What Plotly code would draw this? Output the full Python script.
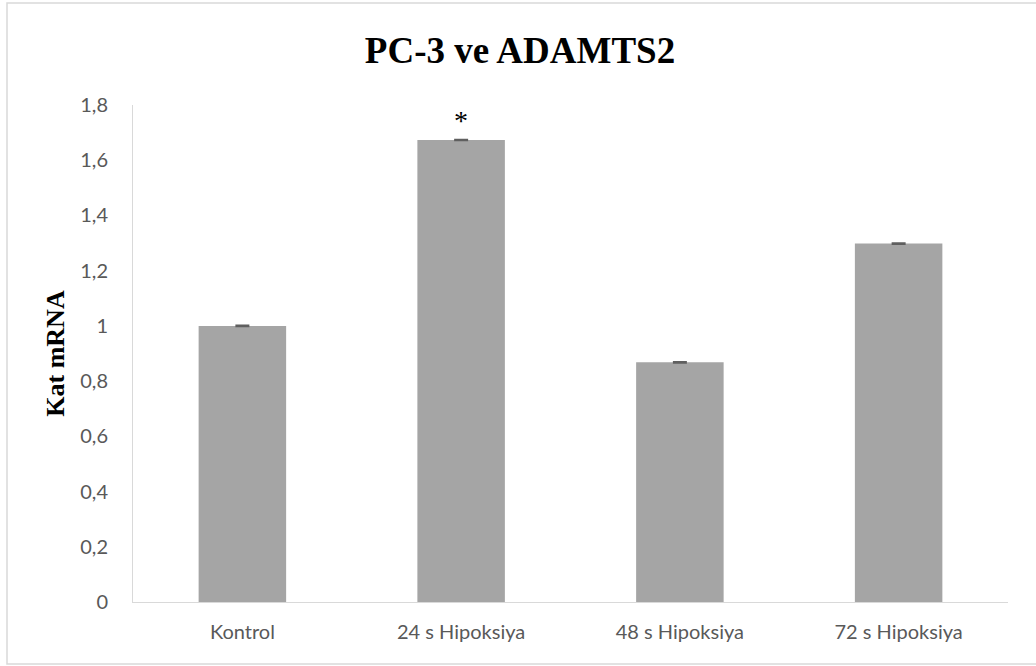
import plotly.graph_objects as go

categories = ["Kontrol", "24 s Hipoksiya", "48 s Hipoksiya", "72 s Hipoksiya"]
values = [1.0, 1.673, 0.868, 1.298]
errors = [0.002, 0.002, 0.002, 0.002]
significance = ["", "*", "", ""]
y_ticks = [0, 0.2, 0.4, 0.6, 0.8, 1.0, 1.2, 1.4, 1.6, 1.8]
y_tick_labels = ["0", "0,2", "0,4", "0,6", "0,8", "1", "1,2", "1,4", "1,6", "1,8"]

fig = go.Figure()
fig.add_trace(go.Bar(
    x=categories, y=values,
    marker=dict(color="#a5a5a5", line=dict(width=0)),
    width=0.4,
    error_y=dict(type="data", array=errors, visible=True, color="#5f5f5f", thickness=1.5, width=7),
))

for c, v, s in zip(categories, values, significance):
    if s:
        fig.add_annotation(x=c, y=v, text=s, showarrow=False, yshift=20,
                           font=dict(family="Liberation Serif", size=28, color="#000000"))

W, H = 1036, 666
l, r, t, b = 133, 28, 105, 64
pw, ph = W - l - r, H - t - b
fig.add_shape(type="rect", xref="paper", yref="paper",
              x0=(7 - l) / pw, x1=1 + (W + 5 - (W - r)) / pw,
              y0=-(664 - (H - b)) / ph, y1=1 + (t - 3) / ph,
              line=dict(color="#d9d9d9", width=1.5), fillcolor="rgba(0,0,0,0)", layer="above")

fig.update_layout(
    width=W, height=H,
    margin=dict(l=l, r=r, t=t, b=b, pad=0),
    paper_bgcolor="white", plot_bgcolor="white",
    title=dict(text="<b>PC-3 ve ADAMTS2</b>", x=520 / W, xanchor="center", y=1 - 50 / H, yanchor="middle",
               font=dict(family="Liberation Serif", size=37, color="#000000")),
    showlegend=False,
    bargap=0.6,
    xaxis=dict(showline=True, linecolor="#d9d9d9", linewidth=1, ticks="", showgrid=False,
               ticklabelstandoff=12,
               tickfont=dict(family="Lato", size=20, color="#595959")),
    yaxis=dict(range=[0, 1.8], tickvals=y_ticks, ticktext=y_tick_labels,
               showline=True, linecolor="#d9d9d9", linewidth=1, showgrid=False, zeroline=False,
               ticks="", ticklabelstandoff=20,
               tickfont=dict(family="Lato", size=20, color="#595959"),
               title=dict(text="<b>Kat mRNA</b>", standoff=8,
                          font=dict(family="Liberation Serif", size=26, color="#000000"))),
)

fig.write_html("out.html", config={"displayModeBar": False},
               post_script="document.body.style.margin='0';")
